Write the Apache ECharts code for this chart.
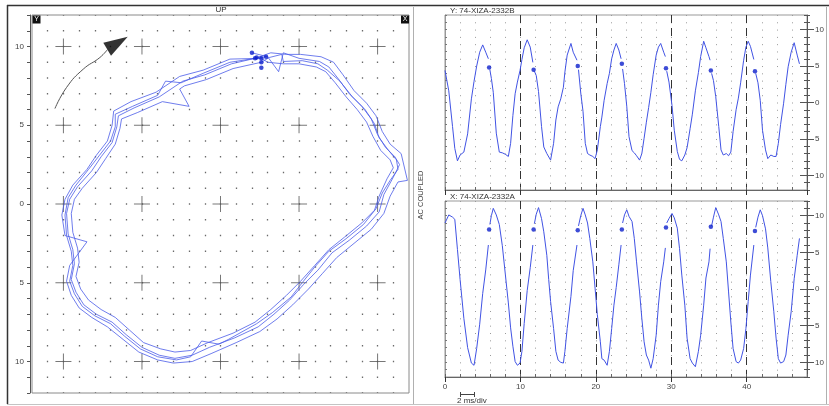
<!DOCTYPE html>
<html><head><meta charset="utf-8">
<script src="https://cdn.jsdelivr.net/npm/echarts@6/dist/echarts.min.js"></script>
<style>html,body{margin:0;padding:0;background:#fff}#c{width:829px;height:406px}</style>
</head><body><div id="c"></div>
<script>
// ---- data (time in ms, amplitudes) ----
const timeMs = [0,0.5,1.0,1.3,1.65,2.0,2.5,3.0,3.5,3.85,4.2,4.6,5.0,5.4,5.75,5.85,5.95,6.15,6.4,6.8,7.2,7.6,8.0,8.4,8.7,9.0,9.3,9.6,9.95,10.2,10.5,10.9,11.3,11.65,11.75,11.85,12.1,12.4,12.8,13.1,13.5,13.75,14.0,14.4,14.7,15.0,15.35,15.7,15.9,16.2,16.7,17.0,17.5,17.6,17.7,18.0,18.3,18.6,18.9,19.2,19.6,19.9,20.2,20.6,20.8,21.1,21.5,21.8,22.1,22.4,22.7,23.05,23.35,23.45,23.55,23.8,24.1,24.4,24.8,25.1,25.4,25.8,26.1,26.4,26.7,27.0,27.3,27.6,28.0,28.3,28.6,29.0,29.22,29.3,29.4,29.7,30.1,30.4,30.8,31.1,31.4,31.8,32.1,32.5,32.8,33.2,33.6,33.9,34.3,34.6,35.0,35.15,35.25,35.35,35.6,35.9,36.3,36.6,36.9,37.3,37.6,37.9,38.2,38.6,38.9,39.2,39.6,39.9,40.2,40.5,40.95,41.1,41.2,41.5,41.8,42.1,42.5,42.8,43.2,43.6,43.9,44.2,44.5,44.9,45.2,45.5,45.9,46.3,46.7,47.0];
const yProbe = [4.4,1.6,-3.3,-6.3,-8.0,-7.2,-6.8,-4.3,0.5,2.9,5.0,6.9,7.9,6.9,6.0,null,4.5,3.3,1.4,-4.2,-6.8,-6.9,-7.1,-7.4,-5.6,-1.8,1.2,2.8,4.4,5.9,7.5,8.6,7.6,5.5,null,4.3,3.7,1.5,-3.3,-6.1,-7.0,-6.9,-7.9,-5.6,-2.4,-0.6,0.5,2.1,4.2,6.5,8.1,6.9,5.8,null,4.5,1.3,-1.2,-5.6,-7.0,-7.2,-7.4,-7.7,-6.5,-3.3,-2.0,0.3,2.6,4.0,6.0,7.2,8.1,7.2,6.0,null,4.6,2.6,-0.5,-4.7,-6.6,-6.9,-7.3,-7.9,-7.0,-4.9,-2.7,-0.7,1.4,3.8,6.5,7.6,8.1,6.9,6.3,null,4.3,2.8,-0.4,-3.8,-6.7,-7.8,-8.0,-7.2,-6.2,-3.6,-1.6,1.6,4.1,6.3,8.4,7.5,6.3,5.8,null,4.0,3.0,0.8,-3.3,-6.5,-7.2,-7.0,-7.3,-6.8,-4.0,-1.0,0.6,2.7,5.8,7.6,8.4,7.7,5.9,null,4.0,2.7,0.3,-3.8,-6.5,-7.7,-7.2,-7.4,-7.4,-5.6,-3.0,-0.1,2.5,4.9,6.9,8.2,6.5,5.3];
const xProbe = [9.0,10.1,9.8,9.5,5.4,1.3,-4.0,-8.0,-10.1,-10.4,-8.1,-4.8,-0.6,2.6,6.0,null,8.8,10.0,11.0,10.1,8.8,5.9,2.0,-1.9,-5.3,-7.8,-9.9,-10.4,-10.1,-8.5,-4.7,-0.2,2.9,6.0,null,8.9,10.2,11.1,9.6,7.8,4.6,1.3,-1.7,-5.4,-8.5,-9.7,-10.0,-10.1,-8.5,-5.4,-1.0,2.5,6.0,null,8.6,10.0,11.0,10.1,9.0,6.9,3.7,0.1,-3.5,-7.2,-9.5,-9.7,-10.4,-8.5,-5.4,-2.2,0.2,3.3,6.0,null,9.0,10.1,10.8,9.9,9.2,6.9,3.7,-0.4,-4.0,-7.2,-9.0,-9.7,-10.8,-9.5,-6.3,-2.2,1.0,3.7,5.6,null,9.0,9.6,10.3,9.7,8.3,5.5,1.9,-2.2,-6.7,-9.5,-10.1,-10.6,-8.5,-6.3,-2.2,1.5,3.7,5.5,null,8.6,9.8,11.1,10.1,9.2,6.9,3.7,-0.4,-4.5,-8.1,-9.9,-10.1,-9.7,-8.1,-5.4,-1.7,1.9,6.0,null,8.4,9.8,10.8,10.0,8.2,5.6,1.0,-3.1,-6.7,-9.5,-10.1,-9.9,-9.0,-6.3,-3.1,1.4,4.6,6.9];
// keyphasor marks on the waveforms
const kpTime = [5.85, 11.75, 17.6, 23.45, 29.3, 35.25, 41.1];
const kpY = [4.8, 4.5, 5.0, 5.3, 4.7, 4.4, 4.3];
const kpX = [8.1, 8.1, 8.0, 8.1, 8.4, 8.5, 7.9];
// orbit revolutions [horizontal, vertical]
const orbitRev1 = [[2.0,9.6],[3.0,9.35],[3.7,8.4],[4.0,9.6],[5.0,9.25],[6.3,9.05],[6.9,8.7],[7.5,7.95],[8.2,7.0],[9.0,6.2],[9.6,5.4],[10.0,4.4],[10.5,3.6],[11.1,3.0],[11.4,2.5],[11.0,1.7],[10.4,0.6],[10.1,-0.5],[9.3,-1.4],[8.2,-2.3],[7.1,-3.1],[6.2,-4.2],[5.3,-5.1],[4.4,-6.1],[3.4,-7.0],[2.4,-7.8],[0.9,-8.5],[-0.7,-9.1],[-1.8,-9.6],[-2.9,-9.8],[-3.9,-9.6],[-5.0,-9.1],[-6.0,-8.3],[-6.9,-7.5],[-7.9,-7.0],[-8.7,-6.4],[-9.2,-5.6],[-9.5,-4.8],[-9.3,-3.8],[-9.4,-2.9],[-9.7,-1.9],[-9.8,-0.6],[-9.6,0.3],[-9.1,1.1],[-8.2,2.1],[-7.6,3.0],[-6.9,3.9],[-6.6,4.9],[-6.5,5.6],[-5.5,6.1],[-3.9,6.8],[-2.4,7.8],[-1.0,8.2],[0.7,8.9],[2.2,9.25]];
const orbitRev2 = [[2.2,9.25],[3.2,9.6],[4.2,9.5],[5.1,9.5],[6.4,9.35],[7.2,9.0],[7.8,8.2],[8.5,7.2],[9.3,6.4],[9.9,5.6],[10.3,4.6],[10.8,3.8],[11.5,3.2],[11.9,1.5],[11.3,1.4],[10.8,0.5],[10.4,-0.6],[9.6,-1.6],[8.5,-2.5],[7.4,-3.4],[6.5,-4.4],[5.6,-5.4],[4.6,-6.4],[3.6,-7.3],[2.5,-8.1],[1.0,-8.8],[-0.6,-9.5],[-1.8,-10.0],[-3.0,-10.1],[-4.0,-9.9],[-5.2,-9.4],[-6.2,-8.6],[-7.2,-7.8],[-8.2,-7.2],[-9.0,-6.6],[-9.5,-5.8],[-9.8,-4.9],[-9.6,-3.9],[-8.5,-2.4],[-9.9,-2.0],[-10.1,-0.7],[-9.9,0.3],[-9.4,1.2],[-8.5,2.2],[-7.9,3.1],[-7.2,4.0],[-6.9,5.0],[-6.8,5.9],[-5.7,6.5],[-4.1,7.1],[-2.6,8.1],[-1.1,8.5],[0.6,9.2],[2.6,9.25]];
const orbitRev3 = [[2.6,9.25],[3.0,9.0],[4.0,8.9],[5.0,8.9],[6.1,8.7],[6.7,8.4],[7.3,7.7],[8.0,6.8],[8.7,6.0],[9.3,5.2],[9.7,4.3],[10.2,3.4],[10.8,2.8],[11.0,2.3],[10.6,1.6],[10.1,0.5],[9.8,-0.4],[9.0,-1.2],[7.9,-2.1],[6.9,-2.9],[6.0,-3.9],[5.1,-4.9],[4.2,-5.8],[3.2,-6.7],[2.2,-7.5],[0.8,-8.2],[-0.8,-8.8],[-1.9,-9.3],[-2.9,-9.4],[-3.8,-9.2],[-4.9,-8.8],[-5.8,-8.0],[-6.7,-7.2],[-7.6,-6.7],[-8.4,-6.1],[-8.9,-5.4],[-9.2,-4.6],[-9.0,-3.7],[-9.1,-2.8],[-9.4,-1.8],[-9.5,-0.6],[-9.3,0.3],[-8.8,1.0],[-7.9,2.0],[-7.3,2.9],[-6.7,3.8],[-6.4,4.8],[-6.3,5.4],[-5.3,5.8],[-3.7,6.5],[-2.0,6.2],[-2.6,7.3],[-2.3,7.5],[-0.9,7.9],[0.8,8.6],[2.6,9.0]];
const orbitRev4 = [[2.6,9.0],[3.1,9.3],[3.9,9.5],[4.0,9.05],[5.2,9.1],[6.2,8.9],[6.8,8.5],[7.6,7.8],[8.4,6.8],[9.2,6.0],[9.8,5.1],[10.1,4.2],[10.7,3.4],[11.2,2.8],[11.3,2.2],[10.8,1.5],[10.3,0.7],[9.9,-0.3],[9.1,-1.3],[8.0,-2.2],[6.9,-3.0],[6.0,-4.0],[5.2,-5.0],[4.5,-5.9],[3.3,-6.9],[2.3,-7.6],[0.5,-8.6],[-0.1,-8.9],[-1.2,-8.7],[-1.9,-9.7],[-2.8,-9.9],[-4.0,-9.7],[-5.1,-9.2],[-6.1,-8.4],[-7.0,-7.6],[-8.0,-7.1],[-8.8,-6.5],[-9.3,-5.7],[-9.6,-4.9],[-9.4,-3.9],[-9.5,-3.0],[-9.8,-2.0],[-9.9,-0.7],[-9.7,0.4],[-9.2,1.2],[-8.4,2.2],[-7.7,3.1],[-7.0,4.0],[-6.7,4.9],[-6.7,5.7],[-5.6,6.2],[-4.0,6.9],[-3.5,7.8],[-2.5,7.7],[-1.1,8.3],[0.6,9.0],[2.9,9.35]];
// keyphasor dots on the orbit
const orbitKpH = [2.0, 2.2, 2.6, 2.6, 2.9, 2.6, 2.3];
const orbitKpV = [9.6, 9.25, 9.25, 9.0, 9.35, 8.65, 9.3];
// tick values
const orbitCrossTicks = [-10, -5, 0, 5, 10];
const ampMajorTicks = [-10, -5, 0, 5, 10];
// rotation arrow annotation (orbit units)
const arrowCurve = [[-10.54, 6.06], [-9.8, 7.4], [-8.74, 8.56], [-7.68, 9.3], [-7.17, 9.84]];
const arrowHead = [[-6.56, 10.22]];

const FONT = '"Liberation Sans", Arial, sans-serif';
const yData = timeMs.map((t, i) => [t, yProbe[i]]);
const xData = timeMs.map((t, i) => [t, xProbe[i]]);
const orbit = [].concat(orbitRev1, orbitRev2, orbitRev3, orbitRev4);
const orbitKp = orbitKpH.map((h, i) => [h, orbitKpV[i]]);
const crosses = [];
orbitCrossTicks.forEach(a => orbitCrossTicks.forEach(b => crosses.push([a, b])));

const absMajor = v => (v % 5 === 0 && Math.abs(v) <= 10) ? String(Math.abs(v)) : '';
const WAVE = '#4153e4', DOT = '#0c1fcc';

function ampAxes(grid) {
  const base = { gridIndex: grid, type: 'value', min: -12, max: 12, interval: 1, splitLine: { show: false } };
  return [
    Object.assign({}, base, { position: 'right', axisLine: { show: true, onZero: false, lineStyle: { color: '#555' } },
      axisTick: { show: true, length: 3, lineStyle: { color: '#555' } },
      axisLabel: { show: true, formatter: absMajor, fontSize: 8, color: '#444', fontFamily: FONT, margin: 8 } }),
    Object.assign({}, base, { position: 'right', axisLine: { show: false, onZero: false },
      axisTick: { show: true, inside: true, length: 3, lineStyle: { color: '#555' } }, axisLabel: { show: false } }),
    Object.assign({}, base, { position: 'right', axisLine: { show: false, onZero: false },
      axisTick: { show: true, length: 7, customValues: ampMajorTicks, lineStyle: { color: '#555' } }, axisLabel: { show: false } }),
    Object.assign({}, base, { position: 'right', axisLine: { show: false, onZero: false },
      axisTick: { show: true, inside: true, length: 7, customValues: ampMajorTicks, lineStyle: { color: '#555' } }, axisLabel: { show: false } }),
    Object.assign({}, base, { position: 'left', axisLine: { show: true, onZero: false, lineStyle: { color: '#999' } },
      axisTick: { show: true, inside: true, length: 2, lineStyle: { color: '#777' } }, axisLabel: { show: false } })
  ];
}
function timeAxes(grid, dotPeriod, labels) {
  return [
    { gridIndex: grid, type: 'value', min: 0, max: 48, interval: 2, position: 'bottom',
      axisLine: { show: true, onZero: false, lineStyle: { color: '#666' } },
      axisTick: { show: true, inside: true, length: 3, lineStyle: { color: '#666' } },
      axisLabel: { show: false },
      splitLine: { show: true, showMinLine: false, showMaxLine: false,
        lineStyle: { color: '#9a9a9a', width: 1, type: [1, dotPeriod - 1] } } },
    { gridIndex: grid, type: 'value', min: 0, max: 48, interval: 10, position: 'bottom',
      axisLine: { show: false, onZero: false },
      axisTick: { show: true, length: 5, lineStyle: { color: '#333' } },
      axisLabel: { show: labels, fontSize: 8, color: '#444', fontFamily: FONT, margin: 6, showMaxLabel: false },
      splitLine: { show: true, showMinLine: false, showMaxLine: false,
        lineStyle: { color: '#333', width: 1, type: [8, 5] } } }
  ];
}

const option = {
  animation: false,
  backgroundColor: '#fff',
  grid: [
    { left: 32, top: 15, width: 377, height: 378, show: true, borderColor: '#8a8a8a', borderWidth: 1 },
    { left: 445, top: 15, width: 362, height: 175, show: true, borderColor: '#999', borderWidth: 1 },
    { left: 445, top: 201, width: 362, height: 176, show: true, borderColor: '#999', borderWidth: 1 }
  ],
  xAxis: [
    { gridIndex: 0, type: 'value', min: -12, max: 12, interval: 1,
      axisLine: { show: false, onZero: false }, axisTick: { show: false }, axisLabel: { show: false },
      splitLine: { show: true, showMinLine: false, showMaxLine: false,
        lineStyle: { color: '#6a6a6a', width: 1.3, type: [1.3, 14.45], dashOffset: 0.65 } } }
  ].concat(timeAxes(1, 175 / 24, false), timeAxes(2, 176 / 24, true)),
  yAxis: [
    { gridIndex: 0, type: 'value', min: -12, max: 12, interval: 1, position: 'left', offset: 2,
      axisLine: { show: true, onZero: false, lineStyle: { color: '#555' } },
      axisTick: { show: true, length: 3, lineStyle: { color: '#555' } },
      axisLabel: { formatter: absMajor, fontSize: 8, color: '#444', fontFamily: FONT, margin: 6 },
      splitLine: { show: false } }
  ].concat(ampAxes(1), ampAxes(2)),
  series: [
    { type: 'scatter', xAxisIndex: 0, yAxisIndex: 0, data: crosses, silent: true, z: 1,
      symbol: 'path://M7.5,0H8.5V7.5H16V8.5H8.5V16H7.5V8.5H0V7.5H7.5Z', symbolSize: 16,
      itemStyle: { color: '#555' } },
    { type: 'line', xAxisIndex: 0, yAxisIndex: 0, data: orbit, showSymbol: false, symbol: 'none',
      z: 3, lineStyle: { color: '#4a5ce8', width: 0.8 } },
    { type: 'scatter', xAxisIndex: 0, yAxisIndex: 0, data: orbitKp, symbolSize: 4.5, z: 4,
      itemStyle: { color: DOT } },
    { type: 'line', xAxisIndex: 0, yAxisIndex: 0, data: arrowCurve, smooth: true, symbol: 'none',
      lineStyle: { color: '#555', width: 1 } },
    { type: 'scatter', xAxisIndex: 0, yAxisIndex: 0, data: arrowHead, symbol: 'triangle',
      symbolSize: [15, 24], symbolRotate: -59, itemStyle: { color: '#000' } },
    { type: 'line', xAxisIndex: 1, yAxisIndex: 1, data: yData, symbol: 'none', connectNulls: false, z: 3,
      lineStyle: { color: WAVE, width: 1 } },
    { type: 'scatter', xAxisIndex: 1, yAxisIndex: 1, data: kpTime.map((t, i) => [t, kpY[i]]),
      symbolSize: 4.5, z: 4, itemStyle: { color: DOT } },
    { type: 'line', xAxisIndex: 3, yAxisIndex: 6, data: xData, symbol: 'none', connectNulls: false, z: 3,
      lineStyle: { color: WAVE, width: 1 } },
    { type: 'scatter', xAxisIndex: 3, yAxisIndex: 6, data: kpTime.map((t, i) => [t, kpX[i]]),
      symbolSize: 4.5, z: 4, itemStyle: { color: DOT } }
  ],
  graphic: [
    { type: 'line', shape: { x1: 7, y1: 5.5, x2: 829, y2: 5.5 }, style: { stroke: '#333', lineWidth: 1.5 } },
    { type: 'line', shape: { x1: 7.5, y1: 5, x2: 7.5, y2: 404 }, style: { stroke: '#333', lineWidth: 1.5 } },
    { type: 'line', shape: { x1: 7, y1: 404.5, x2: 829, y2: 404.5 }, style: { stroke: '#c4c4c4', lineWidth: 1 } },
    { type: 'line', shape: { x1: 413.5, y1: 7, x2: 413.5, y2: 404 }, style: { stroke: '#b0b0b0', lineWidth: 1 } },
    { type: 'line', shape: { x1: 826.5, y1: 7, x2: 826.5, y2: 404 }, style: { stroke: '#b0b0b0', lineWidth: 1 } },
    { type: 'text', x: 221, y: 10, style: { text: 'UP', fontSize: 8, fontFamily: FONT, fill: '#333', align: 'center', verticalAlign: 'middle' } },
    { type: 'rect', shape: { x: 32.5, y: 15.5, width: 8, height: 8 }, style: { fill: '#111' } },
    { type: 'text', x: 36.5, y: 19.5, style: { text: 'Y', fontSize: 7, fontFamily: FONT, fill: '#fff', align: 'center', verticalAlign: 'middle' } },
    { type: 'rect', shape: { x: 401, y: 15.5, width: 8, height: 8 }, style: { fill: '#111' } },
    { type: 'text', x: 405, y: 19.5, style: { text: 'X', fontSize: 7, fontFamily: FONT, fill: '#fff', align: 'center', verticalAlign: 'middle' } },
    { type: 'text', x: 450, y: 10.5, style: { text: 'Y: 74-XIZA-2332B', fontSize: 8, fontFamily: FONT, fill: '#333', align: 'left', verticalAlign: 'middle' } },
    { type: 'text', x: 450, y: 196.5, style: { text: 'X: 74-XIZA-2332A', fontSize: 8, fontFamily: FONT, fill: '#333', align: 'left', verticalAlign: 'middle' } },
    { type: 'text', x: 421, y: 195, rotation: Math.PI / 2, style: { text: 'AC COUPLED', fontSize: 7.5, fontFamily: FONT, fill: '#444', align: 'center', verticalAlign: 'middle' } },
    { type: 'line', shape: { x1: 460, y1: 394.5, x2: 475, y2: 394.5 }, style: { stroke: '#444', lineWidth: 1 } },
    { type: 'line', shape: { x1: 460.5, y1: 392, x2: 460.5, y2: 397 }, style: { stroke: '#444', lineWidth: 1 } },
    { type: 'line', shape: { x1: 474.5, y1: 392, x2: 474.5, y2: 397 }, style: { stroke: '#444', lineWidth: 1 } },
    { type: 'text', x: 457, y: 401, style: { text: '2 ms/div', fontSize: 8, fontFamily: FONT, fill: '#333', align: 'left', verticalAlign: 'middle' } }
  ]
};
const chart = echarts.init(document.getElementById('c'), null, { renderer: 'canvas' });
chart.setOption(option);
</script>
</body></html>
